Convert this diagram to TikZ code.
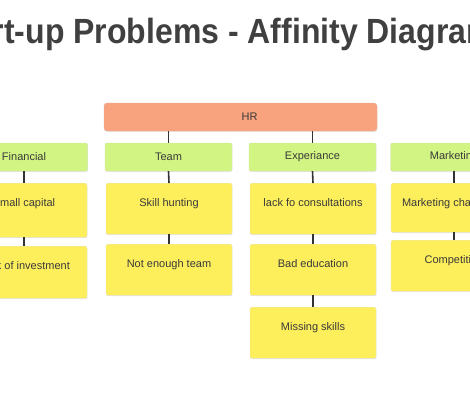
\documentclass[tikz,border=0pt]{standalone}
\usepackage{fontspec}
\usepackage{graphicx}
\usepackage{tikz}
\usepackage{xcolor}
\setmainfont{Liberation Sans}
\usetikzlibrary{positioning, shadows}
\definecolor{cTitle}{RGB}{64,64,64}
\definecolor{cText}{RGB}{58,58,58}
\definecolor{cSalmon}{RGB}{248,162,126}
\definecolor{cLime}{RGB}{210,244,130}
\definecolor{cNote}{RGB}{253,238,92}
\definecolor{cLink}{RGB}{50,50,50}
\tikzset{
	titletext/.style={anchor=base, inner sep=0pt, text=cTitle, font=\bfseries\fontsize{35}{40}\selectfont},
	% header, group and note boxes
	hrbox/.style   ={rectangle, rounded corners=3pt, draw=cSalmon!85!black!60, fill=cSalmon, minimum width=273pt, minimum height=28pt, inner sep=0pt, text=cText, drop shadow={opacity=0.18, shadow xshift=0.4pt, shadow yshift=-1pt}},
	groupbox/.style={rectangle, rounded corners=2pt, draw=cLime!80!black!50, fill=cLime, minimum width=127pt, minimum height=28pt, inner sep=0pt, text=cText, drop shadow={opacity=0.18, shadow xshift=0.4pt, shadow yshift=-1pt}},
	notebox/.style ={rectangle, rounded corners=2pt, draw=cNote!80!black!40, fill=cNote, minimum width=126pt, inner xsep=0pt, inner ysep=0pt, text height=23pt, text depth=28pt, anchor=north, text=cText, drop shadow={opacity=0.2, shadow xshift=0.4pt, shadow yshift=-1pt}},
	link/.style    ={draw=cLink, line width=1.6pt},
}
\begin{document}
\begin{tikzpicture}[x=1pt, y=-1pt, font=\fontsize{11}{13}\selectfont]
	\useasboundingbox (0,0) rectangle (470,400);
	\clip (0,0) rectangle (470,400);
	\fill[white] (0,0) rectangle (470,400);
	\node[titletext] (title) at (218.5,43) {\scalebox{0.914}[1]{Start-up Problems - Affinity Diagram}};
	% header
	\node[hrbox] (hr) at (240.5,117) {\hspace*{18pt}HR};
	% groups
	\node[groupbox] (fin) at (24,157) {Financial};
	\node[groupbox] (team) at (168.5,157) {Team};
	\node[groupbox] (exp) at (312.5,157) {Experiance};
	\node[groupbox] (mkt) at (454,157) {Marketing};
	% notes
	\node[notebox, text depth=31pt] (fin1) at (24,183) {Small capital};
	\node[notebox, text depth=29pt] (fin2) at (24,246) {Lack of investment};
	\node[notebox] (team1) at (169,183) {Skill hunting};
	\node[notebox] (team2) at (169,244) {Not enough team};
	\node[notebox] (exp1) at (313,183) {lack fo consultations};
	\node[notebox] (exp2) at (313,244) {Bad education};
	\node[notebox] (exp3) at (313,307) {Missing skills};
	\node[notebox, text depth=26pt] (mkt1) at (454,183) {Marketing challenges};
	\node[notebox] (mkt2) at (454,240) {Competition};
	% connectors
	\draw[link] (hr.south -| team.north) -- (team.north);
	\draw[link] (hr.south -| exp.north) -- (exp.north);
	\draw[link] (fin.south) -- (fin1.north);
	\draw[link] (fin1.south) -- (fin2.north);
	\draw[link] (team.south) -- (team1.north);
	\draw[link] (team1.south) -- (team2.north);
	\draw[link] (exp.south) -- (exp1.north);
	\draw[link] (exp1.south) -- (exp2.north);
	\draw[link] (exp2.south) -- (exp3.north);
	\draw[link] (mkt.south) -- (mkt1.north);
	\draw[link] (mkt1.south) -- (mkt2.north);
\end{tikzpicture}
\end{document}
